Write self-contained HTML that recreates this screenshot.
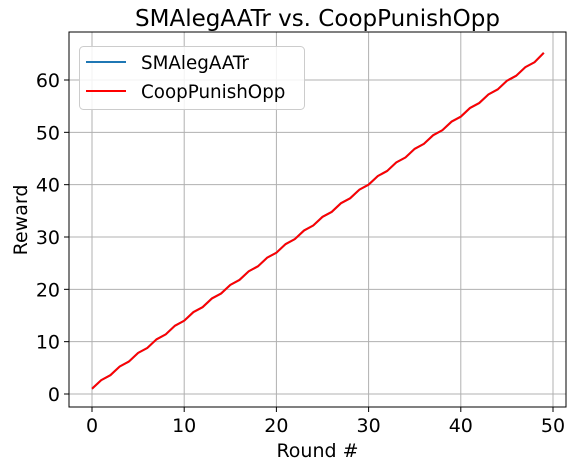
<!DOCTYPE html>
<html><head><meta charset="utf-8"><style>
body{margin:0;background:#fff;font-family:"Liberation Sans","DejaVu Sans",sans-serif}
svg text{font-family:"DejaVu Sans","Liberation Sans",sans-serif;fill:#000}
</style></head><body>
<svg id="c" width="575" height="469"></svg>
<script>
const rounds=[];for(let i=0;i<50;i++)rounds.push(i);
const smalegValues=[1,2.65,3.6,5.25,6.2,7.85,8.8,10.45,11.4,13.05,14.0,15.65,16.6,18.25,19.2,20.85,21.8,23.45,24.4,26.05,27.0,28.65,29.6,31.25,32.2,33.85,34.8,36.45,37.4,39.05,40.0,41.65,42.6,44.25,45.2,46.85,47.8,49.45,50.4,52.05,53.0,54.65,55.6,57.25,58.2,59.85,60.8,62.45,63.4,65.2];
const coopValues=[1,2.65,3.6,5.25,6.2,7.85,8.8,10.45,11.4,13.05,14.0,15.65,16.6,18.25,19.2,20.85,21.8,23.45,24.4,26.05,27.0,28.65,29.6,31.25,32.2,33.85,34.8,36.45,37.4,39.05,40.0,41.65,42.6,44.25,45.2,46.85,47.8,49.45,50.4,52.05,53.0,54.65,55.6,57.25,58.2,59.85,60.8,62.45,63.4,65.2];
const xTicks=[0,10,20,30,40,50];
const yTicks=[0,10,20,30,40,50,60];
const L=69,R=566,T=32,B=407;
const sx=v=>92+v*(553-92)/50;
const sy=v=>394-v*(394-80)/60;
const svg=document.getElementById('c');const NS='http://www.w3.org/2000/svg';
function mk(t,a,p){const e=document.createElementNS(NS,t);for(const k in a)e.setAttribute(k,a[k]);(p||svg).appendChild(e);return e;}
xTicks.forEach(v=>{
 const g=mk('line',{x1:sx(v),x2:sx(v),y1:T,y2:B,stroke:'#b0b0b0','stroke-width':1});
 
 
 mk('line',{x1:sx(v),x2:sx(v),y1:B,y2:B+5,stroke:'#000'});
 const t=mk('text',{x:sx(v),y:B+25,'text-anchor':'middle','font-size':19});t.textContent=v;
 
 
});
yTicks.forEach(v=>{
 const g=mk('line',{x1:L,x2:R,y1:sy(v),y2:sy(v),stroke:'#b0b0b0','stroke-width':1});
 
 
 mk('line',{x1:L-5,x2:L,y1:sy(v),y2:sy(v),stroke:'#000'});
 const t=mk('text',{x:L-9,y:sy(v)+7,'text-anchor':'end','font-size':19});t.textContent=v;
 
 
});
function series(vals,color,name){
 const p=mk('polyline',{points:vals.map((v,i)=>sx(rounds[i])+','+sy(v)).join(' '),fill:'none',stroke:color,'stroke-width':2});
 
 
}
series(smalegValues,'#1f77b4','series-smalegaatr');
series(coopValues,'#ff0000','series-cooppunishopp');
const fr=mk('rect',{x:L,y:T,width:R-L,height:B-T,fill:'none',stroke:'#000','stroke-width':1});


const ti=mk('text',{x:(L+R)/2,y:26,'text-anchor':'middle','font-size':23});ti.textContent='SMAlegAATr vs. CoopPunishOpp';


const xl=mk('text',{x:(L+R)/2,y:457,'text-anchor':'middle','font-size':19});xl.textContent='Round #';


const yl=mk('text',{x:0,y:0,'text-anchor':'middle','font-size':19,transform:'translate(27,220) rotate(-90)'});yl.textContent='Reward';


const lg=mk('g',{});


mk('rect',{x:79.5,y:46.5,width:225,height:63,rx:4,fill:'#fff','fill-opacity':0.85,stroke:'#ccc'},lg);
[['SMAlegAATr','#1f77b4',62],['CoopPunishOpp','#ff0000',91]].forEach(([n,c,y])=>{
 mk('line',{x1:86,x2:126,y1:y,y2:y,stroke:c,'stroke-width':2},lg);
 const t=mk('text',{x:141,y:y+7,'font-size':18.3},lg);t.textContent=n;
 
 
});
</script>
</body></html>
